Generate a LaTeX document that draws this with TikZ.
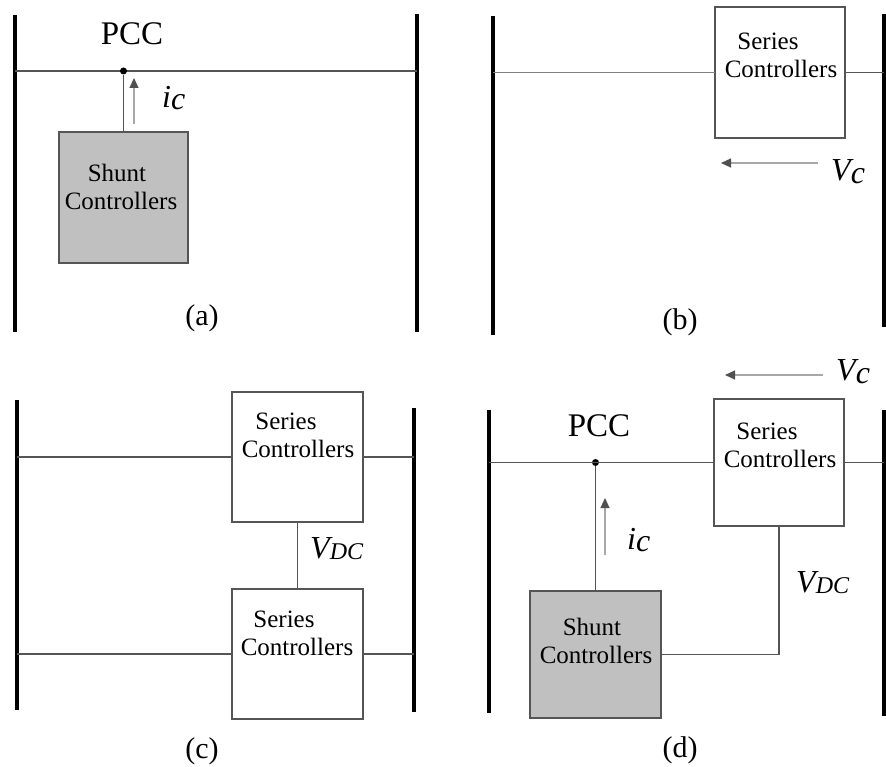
\documentclass[tikz,border=0pt]{standalone}
\usepackage{fontspec}
\setmainfont{Liberation Serif}
\usetikzlibrary{arrows.meta}
\definecolor{wirec}{HTML}{555555}
\definecolor{shuntfill}{HTML}{C0C0C0}
\definecolor{arrowshaft}{HTML}{A8A8A8}
\definecolor{arrowhead}{HTML}{505050}
\begin{document}
\begin{tikzpicture}[x=1pt,y=-1pt,
  bus/.style={line width=4pt, black},
  wire/.style={line width=1.6pt, wirec},
  ctrlbox/.style={draw=wirec, line width=1.6pt, fill=white, inner sep=0pt, outer sep=0pt},
  shuntbox/.style={ctrlbox, fill=shuntfill},
  boxtext/.style={font=\fontsize{25}{28}\selectfont, align=center, inner sep=0pt, anchor=base},
  lbl/.style={font=\fontsize{32}{32}\selectfont\itshape, inner sep=0pt, anchor=base west},
  pcclbl/.style={font=\fontsize{33}{33}\selectfont, inner sep=0pt, anchor=base},
  caplbl/.style={font=\fontsize{30}{30}\selectfont, inner sep=0pt, anchor=base},
  flow/.style={line width=1.2pt, arrowshaft, -{Triangle[length=10pt,width=9pt,color=arrowhead]}},
  junction/.style={circle, fill=black, inner sep=0pt, minimum size=7pt}
]
\useasboundingbox (0,0) rectangle (886,767);

% ---------------- (a) ----------------
\draw[bus] (15,15) -- (15,332);
\draw[bus] (417,14) -- (417,332);
\coordinate (aL) at (15,71);
\coordinate (aR) at (417,71);
\draw[wire] (aL) -- (aR);
\node[shuntbox, minimum width=129pt, minimum height=131pt, anchor=north west] (aShunt) at (59,132) {};
\node[junction] (aDot) at (123.5,71) {};
\draw[wire] (aShunt.north) -- (aDot);
\node[boxtext] (aShuntTxt) at (121,210) {Shunt\hspace*{8pt}\\Controllers};
\node[pcclbl] (aPCC) at (132,45) {PCC};
\coordinate (aIs) at (134,124);
\coordinate (aIe) at (134,78);
\draw[flow] (aIs) -- (aIe);
\node[lbl] (aIc) at (162,108) {i\raisebox{-2pt}{c}};
\node[caplbl] (aCap) at (202,326) {(a)};

% ---------------- (b) ----------------
\draw[bus] (493,16) -- (493,335);
\draw[bus] (884,14) -- (884,327);
\coordinate (bL) at (493,72.5);
\coordinate (bR) at (884,72.5);
\node[ctrlbox, minimum width=130pt, minimum height=131pt, anchor=north west] (bSer) at (715,7) {};
\draw[wire, color=gray] (bL) -- (bSer.west);
\draw[wire] (bSer.east) -- (bR);
\node[boxtext] (bSerTxt) at (781,78) {Series\hspace*{26pt}\\Controllers};
\coordinate (bVs) at (818,163);
\coordinate (bVe) at (721,163);
\draw[flow] (bVs) -- (bVe);
\node[lbl] (bVc) at (831,181) {V\raisebox{-3pt}{c}};
\node[caplbl] (bCap) at (680,329) {(b)};

% ---------------- (c) ----------------
\draw[bus] (17,400) -- (17,710);
\draw[bus] (414,408) -- (414,712);
\node[ctrlbox, minimum width=131pt, minimum height=130pt, anchor=north west] (cTop) at (232,392) {};
\node[ctrlbox, minimum width=131pt, minimum height=130pt, anchor=north west] (cBot) at (232,589) {};
\coordinate (cL1) at (17,457);
\coordinate (cR1) at (414,457);
\coordinate (cL2) at (17,654);
\coordinate (cR2) at (414,654);
\draw[wire] (cL1) -- (cTop.west);
\draw[wire] (cTop.east) -- (cR1);
\draw[wire] (cL2) -- (cBot.west);
\draw[wire] (cBot.east) -- (cR2);
\draw[wire] (cTop.south) -- (cBot.north);
\node[boxtext] (cTopTxt) at (298,457) {Series\hspace*{24pt}\\Controllers};
\node[boxtext] (cBotTxt) at (297,655) {Series\hspace*{26pt}\\Controllers};
\node[lbl] (cVdc) at (310,558) {V\raisebox{-1.5pt}{\fontsize{24}{24}\selectfont DC}};
\node[caplbl] (cCap) at (202,758) {(c)};

% ---------------- (d) ----------------
\draw[bus] (489,410) -- (489,713);
\draw[bus] (884,410) -- (884,716);
\node[ctrlbox, minimum width=130pt, minimum height=127pt, anchor=north west] (dSer) at (714,399) {};
\node[shuntbox, minimum width=131pt, minimum height=127pt, anchor=north west] (dShunt) at (530,591) {};
\coordinate (dL) at (489,462.5);
\coordinate (dR) at (884,462.5);
\node[junction] (dDot) at (595.5,462.5) {};
\draw[wire] (dL) -- (dSer.west);
\draw[wire] (dSer.east) -- (dR);
\draw[wire] (dShunt.north) -- (dDot);
\draw[wire] (dSer.south) |- (dShunt.east);
\node[boxtext] (dSerTxt) at (780,467) {Series\hspace*{26pt}\\Controllers};
\node[boxtext] (dShuntTxt) at (596,663) {Shunt\hspace*{8pt}\\Controllers};
\node[pcclbl] (dPCC) at (599,436) {PCC};
\coordinate (dVs) at (823,375);
\coordinate (dVe) at (725,375);
\draw[flow] (dVs) -- (dVe);
\node[lbl] (dVc) at (836,380) {V\raisebox{-3pt}{c}};
\coordinate (dIs) at (605,555);
\coordinate (dIe) at (605,498);
\draw[flow] (dIs) -- (dIe);
\node[lbl] (dIc) at (627,549) {i\raisebox{-2pt}{c}};
\node[lbl] (dVdc) at (796,592) {V\raisebox{-1.5pt}{\fontsize{24}{24}\selectfont DC}};
\node[caplbl] (dCap) at (680,757) {(d)};
\end{tikzpicture}
\end{document}
